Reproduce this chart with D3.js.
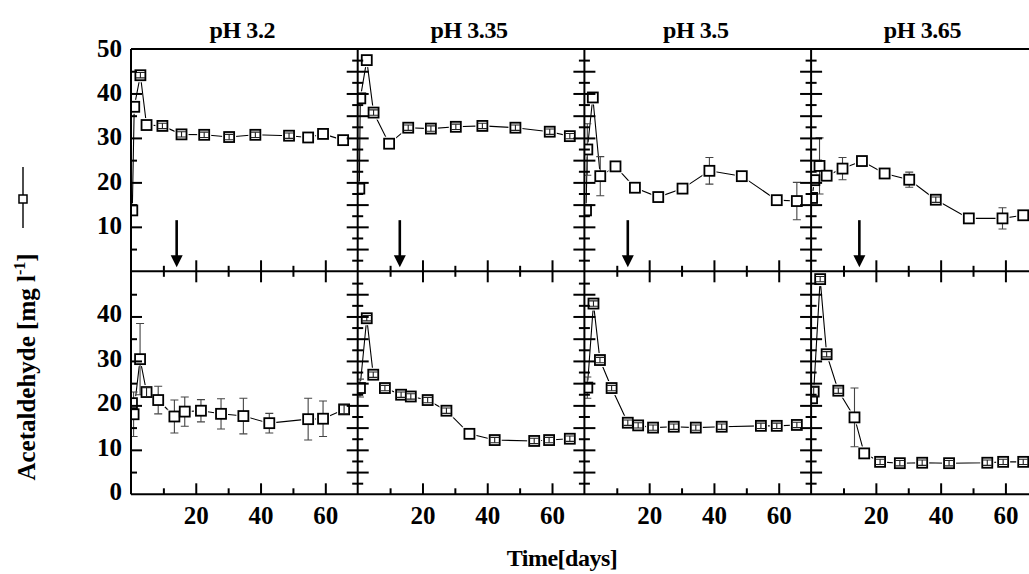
<!DOCTYPE html>
<html><head><meta charset="utf-8">
<script src="https://cdn.jsdelivr.net/npm/d3@7"></script>
<style>body{margin:0;background:#fff}svg{display:block}</style>
</head><body><svg id="c" width="1029" height="574"></svg>
<script>
// ---------- DATA ----------
const phLabels = ["pH 3.2", "pH 3.35", "pH 3.5", "pH 3.65"];
const yTickTop = [10, 20, 30, 40, 50];
const yTickBottom = [0, 10, 20, 30, 40];
const xTickLabels = [20, 40, 60];
const arrowDays = [14.1, 13, 13.4, 14.9];
const arrowFrom = 11.5, arrowTo = 0.9;

// top row
const ph32TopDays = [0.4, 1, 2.9, 4.8, 9.7, 15.6, 22.6, 30.3, 38.4, 48.8, 54.7, 59.3, 65.5];
const ph32TopVals = [13.7, 37, 44.1, 32.9, 32.7, 30.8, 30.7, 30.2, 30.7, 30.5, 30.1, 30.9, 29.5];
const ph32TopErr  = [0, 0, 0.6, 0, 0.6, 0.6, 0.6, 0.6, 0.6, 0.6, 0, 0, 0];

const ph335TopDays = [0.5, 0.8, 2.8, 4.9, 9.7, 15.6, 22.6, 30.3, 38.5, 48.7, 59.3, 65.5];
const ph335TopVals = [18.6, 38.9, 47.5, 35.7, 28.7, 32.3, 32.1, 32.5, 32.7, 32.3, 31.4, 30.4];
const ph335TopErr  = [0, 0, 0, 0.6, 0, 0.6, 0.6, 0.6, 0.6, 0.6, 0.6, 0.6];

const ph35TopDays = [0.5, 0.9, 2.6, 4.9, 9.6, 15.6, 22.8, 30.3, 38.6, 48.6, 59.4, 65.6];
const ph35TopVals = [13.7, 27.4, 39.1, 21.4, 23.6, 18.8, 16.7, 18.6, 22.6, 21.4, 16.0, 15.8];
const ph35TopErr  = [0, 5.8, 0, 4.4, 0, 0, 0, 0, 3, 0, 0, 4.2];

const ph365TopDays = [0.3, 1, 2.6, 4.8, 9.7, 15.7, 22.7, 30.3, 38.5, 48.7, 59.1, 65.5];
const ph365TopVals = [16.5, 20.5, 23.7, 21.5, 23.1, 24.8, 22.0, 20.6, 16.1, 11.9, 11.9, 12.6];
const ph365TopErr  = [0, 0, 6.3, 0, 2.5, 0, 0, 1.7, 0.6, 0, 2.4, 0];

// bottom row
const ph32BotDays = [0.3, 0.8, 2.8, 4.8, 8.4, 13.4, 16.6, 21.6, 27.8, 34.7, 42.7, 54.7, 59.3, 65.8];
const ph32BotVals = [20.5, 18.0, 30.4, 23.0, 21.2, 17.5, 18.6, 18.8, 18.1, 17.6, 16.0, 16.9, 17.0, 19.1];
const ph32BotErr  = [0, 5, 8, 1, 3.1, 3.7, 3.3, 2.5, 3.4, 4, 2.2, 4.7, 4, 1];

const ph335BotDays = [0.7, 2.8, 4.8, 8.4, 13.4, 16.4, 21.6, 27.4, 34.5, 42.3, 54.5, 59.1, 65.5];
const ph335BotVals = [23.9, 39.6, 26.9, 23.9, 22.4, 22.0, 21.2, 18.8, 13.6, 12.2, 12.0, 12.2, 12.5];
const ph335BotErr  = [2, 0.6, 0.6, 0.6, 0.6, 0.6, 0.6, 0.6, 0, 0.6, 0.6, 0.6, 0.6];

const ph35BotDays = [0.9, 2.8, 4.8, 8.4, 13.4, 16.6, 21.2, 27.6, 34.4, 42.4, 54.5, 59.4, 65.6];
const ph35BotVals = [24.0, 42.9, 30.2, 23.9, 16.1, 15.5, 15.0, 15.2, 15.0, 15.2, 15.4, 15.4, 15.6];
const ph35BotErr  = [2.4, 0.6, 0.6, 0.6, 0.6, 0.6, 0.6, 0.6, 0.6, 0.6, 0.6, 0.6, 0.6];

const ph365BotDays = [0.3, 0.8, 2.8, 4.8, 8.4, 13.4, 16.4, 21.3, 27.4, 34.3, 42.6, 54.4, 59.3, 65.5];
const ph365BotVals = [21.6, 23.1, 48.4, 31.5, 23.3, 17.3, 9.2, 7.3, 7.0, 7.1, 7.0, 7.1, 7.3, 7.3];
const ph365BotErr  = [0, 1, 0.6, 0.6, 0.6, 6.6, 0, 0.6, 0.6, 0.6, 0.6, 0.6, 0.6, 0.6];

const topSeries = [
  [ph32TopDays, ph32TopVals, ph32TopErr],
  [ph335TopDays, ph335TopVals, ph335TopErr],
  [ph35TopDays, ph35TopVals, ph35TopErr],
  [ph365TopDays, ph365TopVals, ph365TopErr]
];
const botSeries = [
  [ph32BotDays, ph32BotVals, ph32BotErr],
  [ph335BotDays, ph335BotVals, ph335BotErr],
  [ph35BotDays, ph35BotVals, ph35BotErr],
  [ph365BotDays, ph365BotVals, ph365BotErr]
];

// ---------- LAYOUT ----------
const W = 1029, H = 574;
const pLeft = 131, panelW = 226.7, pTop = 49, pMid = 271.3, pBottom = 494.3;
const FONT = '"Liberation Serif","Times New Roman",serif';

const svg = d3.select("#c");
svg.append("rect").attr("width", W).attr("height", H).attr("fill", "#fff");

const x = d3.scaleLinear().domain([0, 70]).range([0, panelW]);
const yTop = d3.scaleLinear().domain([0, 50]).range([pMid, pTop]);
const yBot = d3.scaleLinear().domain([0, 50]).range([pBottom, pBottom - (pMid - pTop)]);

const defs = svg.append("defs");
const MS = 10, HALO = 14;

function drawSeries(g, days, vals, errs, y, clipId) {
  const pts = days.map((d, i) => ({ x: x(d), y: y(vals[i]), e: errs[i], v: vals[i] }));
  const s = g.append("g").attr("clip-path", `url(#${clipId})`);
  s.append("path").datum(pts)
    .attr("d", d3.line().x(p => p.x).y(p => p.y))
    .attr("fill", "none").attr("stroke", "#000").attr("stroke-width", 1.1);
  s.selectAll(".halo").data(pts).join("rect")
    .attr("x", p => p.x - HALO / 2).attr("y", p => p.y - HALO / 2)
    .attr("width", HALO).attr("height", HALO).attr("fill", "#fff");
  const big = pts.filter(p => p.e > 0 && Math.abs(y(p.v + p.e) - p.y) > MS / 2);
  const small = pts.filter(p => p.e > 0 && Math.abs(y(p.v + p.e) - p.y) <= MS / 2);
  function bars(sel, col, w, cap) {
    sel.each(function (p) {
      const gg = d3.select(this);
      const y1 = y(p.v + p.e), y2 = y(p.v - p.e);
      gg.append("line").attr("x1", p.x).attr("x2", p.x).attr("y1", y1).attr("y2", y2);
      gg.append("line").attr("x1", p.x - cap).attr("x2", p.x + cap).attr("y1", y1).attr("y2", y1);
      gg.append("line").attr("x1", p.x - cap).attr("x2", p.x + cap).attr("y1", y2).attr("y2", y2);
      gg.selectAll("line").attr("stroke", col).attr("stroke-width", w);
    });
  }
  bars(s.selectAll(".bb").data(big).join("g"), "#444", 1.1, 4);
  s.selectAll(".sq").data(pts).join("rect")
    .attr("x", p => p.x - MS / 2).attr("y", p => p.y - MS / 2)
    .attr("width", MS).attr("height", MS)
    .attr("fill", "#fff").attr("stroke", "#000").attr("stroke-width", 1.8);
  bars(s.selectAll(".sb").data(small).join("g"), "#222", 1.1, 4.6);
}

function styleAxis(g) {
  g.select(".domain").remove();
  g.selectAll(".tick line").attr("stroke", "#000").attr("stroke-width", 2);
  g.selectAll(".tick text").attr("font-family", FONT).attr("font-weight", "bold")
    .attr("font-size", 25).attr("fill", "#000");
}

for (let i = 0; i < 4; i++) {
  const g = svg.append("g").attr("transform", `translate(${pLeft + i * panelW},0)`);
  const cT = "clipT" + i, cB = "clipB" + i;
  defs.append("clipPath").attr("id", cT).append("rect")
    .attr("x", 0).attr("y", pTop).attr("width", panelW).attr("height", pMid - pTop);
  defs.append("clipPath").attr("id", cB).append("rect")
    .attr("x", 0).attr("y", pMid).attr("width", panelW).attr("height", pBottom - pMid);

  drawSeries(g, ...topSeries[i], yTop, cT);
  drawSeries(g, ...botSeries[i], yBot, cB);

  // arrow
  const ax = x(arrowDays[i]);
  const tipY = yTop(arrowTo);
  g.append("line").attr("x1", ax).attr("x2", ax)
    .attr("y1", yTop(arrowFrom)).attr("y2", tipY - 10)
    .attr("stroke", "#000").attr("stroke-width", 2.6);
  g.append("path").attr("d", `M${ax - 6},${tipY - 12}L${ax + 6},${tipY - 12}L${ax},${tipY}Z`).attr("fill", "#000");

  // x ticks on middle line (crossing)
  const majX = [20, 40, 60], minX = [10, 30, 50];
  [[majX, 11], [minX, 5.5]].forEach(([vals, len]) => {
    styleAxis(g.append("g").attr("transform", `translate(0,${pMid})`)
      .call(d3.axisBottom(x).tickValues(vals).tickSize(len).tickFormat("")));
    styleAxis(g.append("g").attr("transform", `translate(0,${pMid})`)
      .call(d3.axisTop(x).tickValues(vals).tickSize(len).tickFormat("")));
  });
  // bottom x ticks (inward)
  styleAxis(g.append("g").attr("transform", `translate(0,${pBottom})`)
    .call(d3.axisTop(x).tickValues(majX).tickSize(11).tickFormat("")));
  styleAxis(g.append("g").attr("transform", `translate(0,${pBottom})`)
    .call(d3.axisTop(x).tickValues(minX).tickSize(6).tickFormat("")));
  // bottom labels
  const lab = g.append("g").attr("transform", `translate(0,${pBottom})`)
    .call(d3.axisBottom(x).tickValues(xTickLabels).tickSize(0).tickPadding(11.5));
  styleAxis(lab);

  // y ticks
  [yTop, yBot].forEach(ys => {
    if (i === 0) {
      styleAxis(g.append("g").call(d3.axisRight(ys).tickValues([10, 20, 30, 40]).tickSize(11).tickFormat("")));
      styleAxis(g.append("g").call(d3.axisRight(ys).tickValues([5, 15, 25, 35, 45]).tickSize(6).tickFormat("")));
    } else {
      const maj = [5, 10, 15, 20, 25, 30, 35, 40, 45];
      const mn = [2.5, 7.5, 12.5, 17.5, 22.5, 27.5, 32.5, 37.5, 42.5, 47.5];
      [[maj, 11], [mn, 5.5]].forEach(([vals, len]) => {
        styleAxis(g.append("g").call(d3.axisRight(ys).tickValues(vals).tickSize(len).tickFormat("")));
        styleAxis(g.append("g").call(d3.axisLeft(ys).tickValues(vals).tickSize(len).tickFormat("")));
      });
    }
  });

  // title
  g.append("text").attr("x", panelW / 2 - 2).attr("y", 37.7)
    .attr("text-anchor", "middle").attr("font-family", FONT).attr("font-weight", "bold")
    .attr("font-size", 24).attr("letter-spacing", -0.4).text(phLabels[i]);
}

// y labels on left
const yl1 = svg.append("g").attr("transform", `translate(${pLeft},0)`)
  .call(d3.axisLeft(yTop).tickValues(yTickTop).tickSize(0).tickPadding(9));
styleAxis(yl1); yl1.selectAll("text").attr("dy", "0.28em");
const yl2 = svg.append("g").attr("transform", `translate(${pLeft},0)`)
  .call(d3.axisLeft(yBot).tickValues(yTickBottom).tickSize(0).tickPadding(9));
styleAxis(yl2); yl2.selectAll("text").attr("dy", "0.22em");

// frame lines
const fr = svg.append("g").attr("stroke", "#000").attr("stroke-width", 2);
fr.append("line").attr("x1", pLeft).attr("x2", W).attr("y1", pTop).attr("y2", pTop);
fr.append("line").attr("x1", pLeft).attr("x2", W).attr("y1", pMid).attr("y2", pMid);
fr.append("line").attr("x1", pLeft).attr("x2", W).attr("y1", pBottom).attr("y2", pBottom);
for (let i = 0; i < 4; i++) {
  const xx = pLeft + i * panelW;
  fr.append("line").attr("x1", xx).attr("x2", xx).attr("y1", pTop).attr("y2", pBottom);
}

// axis titles
svg.append("text").attr("x", 562).attr("y", 566).attr("text-anchor", "middle")
  .attr("font-family", FONT).attr("font-weight", "bold").attr("font-size", 24)
  .attr("letter-spacing", -0.5).text("Time[days]");

const yt = svg.append("text").attr("transform", "translate(35,367) rotate(-90)")
  .attr("text-anchor", "middle").attr("font-family", FONT).attr("font-weight", "bold")
  .attr("font-size", 25);
yt.append("tspan").text("Acetaldehyde  [mg l");
yt.append("tspan").attr("font-size", 16).attr("dy", -10).text("-1");
yt.append("tspan").attr("dy", 10).text("]");

// legend symbol
const lg = svg.append("g").attr("stroke", "#000");
lg.append("line").attr("x1", 23).attr("x2", 23).attr("y1", 167).attr("y2", 195).attr("stroke-width", 1.4);
lg.append("line").attr("x1", 23).attr("x2", 23).attr("y1", 203).attr("y2", 228).attr("stroke-width", 1.4);
lg.append("rect").attr("x", 19).attr("y", 195).attr("width", 8).attr("height", 8)
  .attr("fill", "#fff").attr("stroke-width", 1.5);
</script></body></html>
